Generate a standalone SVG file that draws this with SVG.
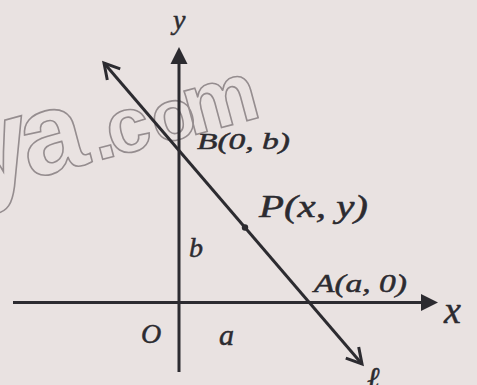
<svg xmlns="http://www.w3.org/2000/svg" width="477" height="385" viewBox="0 0 477 385">
  <defs>
    <style>
      .ink { stroke: #2c2b30; stroke-width: 3; fill: none; }
      .lbl { font-family: "Liberation Serif", "DejaVu Serif", serif; font-style: italic; fill: #2c2b30; stroke: #2c2b30; stroke-width: 0.5; }
      .wm { font-family: "Liberation Sans", "DejaVu Sans", sans-serif; font-weight: bold; fill: none; stroke: #958d8f; stroke-width: 1.6; }
    </style>
    <marker id="tri" viewBox="-10 -10 20 20" markerWidth="20" markerHeight="20" refX="0" refY="0" orient="auto" markerUnits="userSpaceOnUse">
      <path d="M-9,-8.5 L8,0 L-9,8.5 Z" fill="#2c2b30"/>
    </marker>
    <marker id="chev" viewBox="-18 -12 22 24" markerWidth="22" markerHeight="24" refX="0" refY="0" orient="auto-start-reverse" markerUnits="userSpaceOnUse">
      <path d="M-15,-8.5 L0,0 L-15,8.5" fill="none" stroke="#2c2b30" stroke-width="3"/>
    </marker>
  </defs>
  <rect width="477" height="385" fill="#e9e2e1"/>
  <g id="watermark" transform="translate(0 187) rotate(-15)">
    <text class="wm" y="0"><tspan x="-27" font-size="120">y</tspan><tspan x="31" font-size="115">a</tspan><tspan x="101" font-size="80">.</tspan><tspan x="117" font-size="78">c</tspan><tspan x="163" font-size="72">o</tspan><tspan x="197" font-size="85">m</tspan></text>
  </g>
  <g id="connectors">
    <line id="x-axis" class="ink" x1="13" y1="302.5" x2="430" y2="302.5" marker-end="url(#tri)"/>
    <line id="y-axis" class="ink" x1="179" y1="372" x2="179" y2="55" marker-end="url(#tri)"/>
    <line id="line-l" class="ink" x1="104" y1="63" x2="362" y2="364" marker-start="url(#chev)" marker-end="url(#chev)"/>
  </g>
  <g id="point-P">
    <circle cx="245" cy="227.5" r="3.2" fill="#2c2b30"/>
    <text class="lbl" x="259" y="217" font-size="31" textLength="109" lengthAdjust="spacingAndGlyphs">P(x, y)</text>
  </g>
  <g id="point-B">
    <text class="lbl" x="197" y="149" font-size="24" textLength="93" lengthAdjust="spacingAndGlyphs">B(0, b)</text>
  </g>
  <g id="point-A">
    <text class="lbl" x="314" y="292" font-size="26" textLength="93" lengthAdjust="spacingAndGlyphs">A(a, 0)</text>
  </g>
  <g id="labels">
    <text class="lbl" x="173" y="29" font-size="28">y</text>
    <text class="lbl" x="444" y="323" font-size="38">x</text>
    <text class="lbl" x="141" y="343" font-size="28">O</text>
    <text class="lbl" x="219" y="345" font-size="30">a</text>
    <text class="lbl" x="189" y="257" font-size="28">b</text>
    <text class="lbl" x="367" y="388" font-size="30">ℓ</text>
  </g>
</svg>
